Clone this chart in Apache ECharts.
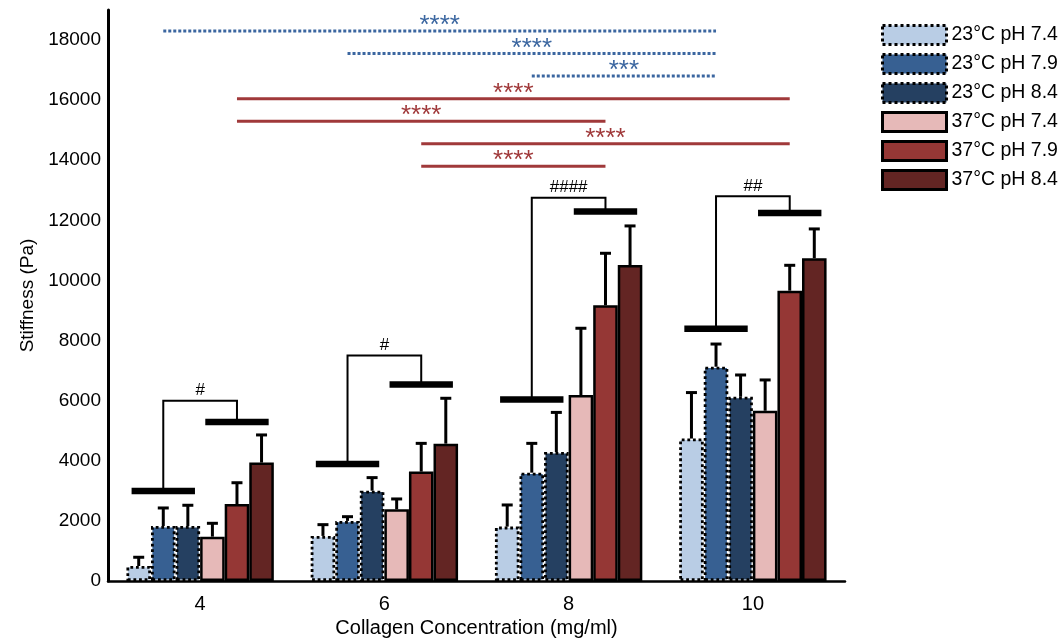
<!DOCTYPE html>
<html>
<head>
<meta charset="utf-8">
<script src="https://cdn.jsdelivr.net/npm/echarts@6/dist/echarts.min.js"></script>
<style>
  html, body { margin: 0; padding: 0; background: #fff; }
  #chart { width: 1059px; height: 638px; }
</style>
</head>
<body>
<div id="chart"></div>
<script>
// Collagen concentration (mg/ml) on the category axis
const concentrations = ['4', '6', '8', '10'];
const groupNames = ['23°C pH 7.4', '23°C pH 7.9', '23°C pH 8.4', '37°C pH 7.4', '37°C pH 7.9', '37°C pH 8.4'];

// Mean stiffness (Pa) per condition
const mean23_74 = [500, 1500, 1810, 4740];
const mean23_79 = [1830, 2000, 3605, 7130];
const mean23_84 = [1830, 3005, 4290, 6130];
const mean37_74 = [1475, 2385, 6190, 5665];
const mean37_79 = [2560, 3640, 9175, 9660];
const mean37_84 = [3940, 4570, 10515, 10740];

// Standard deviations (Pa), drawn as upper error bars
const sd23_74 = [290, 375, 720, 1530];
const sd23_79 = [600, 140, 975, 755];
const sd23_84 = [690, 435, 1320, 725];
const sd37_74 = [445, 345, 2220, 1025];
const sd37_79 = [710, 940, 1730, 845];
const sd37_84 = [920, 1510, 1300, 975];

// 23°C vs 37°C comparison brackets within each concentration
const bracketLow23 = [3000, 3900, 6050, 8400];
const bracketLow37 = [5300, 6550, 12300, 12250];
const bracketTop = [6000, 7500, 12750, 12800];
const bracketLabels = ['#', '#', '####', '##'];

// Comparisons between concentrations for one condition
const sigGroup = [1, 1, 1, 4, 4, 4, 4];
const sigFrom = [0, 1, 2, 0, 0, 1, 1];
const sigTo = [3, 3, 3, 3, 2, 3, 2];
const sigLevel = [18300, 17550, 16800, 16050, 15300, 14550, 13800];
const sigLabels = ['****', '****', '***', '****', '****', '****', '****'];

// Y axis ticks
const yMin = 0, yMax = 19000, yStep = 2000;

const means = [mean23_74, mean23_79, mean23_84, mean37_74, mean37_79, mean37_84];
const sds = [sd23_74, sd23_79, sd23_84, sd37_74, sd37_79, sd37_84];
const colors = ['#b9cde5', '#376092', '#254061', '#e6b9b8', '#953735', '#632523'];
const borderTypes = ['dotted', 'dotted', 'dotted', 'solid', 'solid', 'solid'];
const sigColors = { 1: '#3b66a0', 4: '#a0393a' };
const FONT = 'Liberation Sans, Arial, sans-serif';

const nGroups = groupNames.length;
const catGap = 0.2;

// horizontal offset (px) of a bar centre from its category centre
function barOffset(api, s) {
  const band = api.size([1, 0])[0];
  const w = (1 - catGap) / nGroups;
  return band * (-(1 - catGap) / 2 + (s + 0.5) * w);
}

const barSeries = groupNames.map((name, s) => ({
  name: name,
  type: 'bar',
  barGap: '0%',
  barCategoryGap: (catGap * 100) + '%',
  data: means[s],
  itemStyle: {
    color: colors[s],
    borderColor: '#000',
    borderWidth: borderTypes[s] === 'dotted' ? 2.8 : 2.5,
    borderType: borderTypes[s]
  },
  z: 2
}));

const errData = [];
means.forEach((arr, s) => arr.forEach((m, c) => errData.push([c, s, m, sds[s][c]])));

const errorSeries = {
  type: 'custom',
  encode: { x: 0, y: 2 },
  data: errData,
  z: 3,
  silent: true,
  renderItem(params, api) {
    const c = api.value(0), s = api.value(1), m = api.value(2), sd = api.value(3);
    const base = api.coord([c, m]);
    const top = api.coord([c, m + sd]);
    const x = base[0] + barOffset(api, s);
    return {
      type: 'group',
      children: [
        { type: 'line', shape: { x1: x, y1: base[1], x2: x, y2: top[1] }, style: { stroke: '#000', lineWidth: 3 } },
        { type: 'line', shape: { x1: x - 5.5, y1: top[1], x2: x + 5.5, y2: top[1] }, style: { stroke: '#000', lineWidth: 3 } }
      ]
    };
  }
};

const bracketSeries = {
  type: 'custom',
  encode: { x: 0, y: 3 },
  data: concentrations.map((_, c) => [c, bracketLow23[c], bracketLow37[c], bracketTop[c]]),
  z: 4,
  silent: true,
  renderItem(params, api) {
    const c = api.value(0);
    const band = api.size([1, 0])[0];
    const half = band * 0.172;
    const pL = api.coord([c, api.value(1)]);
    const pR = api.coord([c, api.value(2)]);
    const pT = api.coord([c, api.value(3)]);
    const xL = pL[0] + barOffset(api, 1);
    const xR = pL[0] + barOffset(api, 4);
    return {
      type: 'group',
      children: [
        { type: 'rect', shape: { x: xL - half, y: pL[1] - 3, width: half * 2, height: 6.5 }, style: { fill: '#000' } },
        { type: 'rect', shape: { x: xR - half, y: pR[1] - 3, width: half * 2, height: 6.5 }, style: { fill: '#000' } },
        { type: 'polyline', shape: { points: [[xL, pL[1]], [xL, pT[1]], [xR, pT[1]], [xR, pR[1]]] }, style: { stroke: '#000', lineWidth: 2, fill: null } },
        { type: 'text', style: { text: bracketLabels[c], x: (xL + xR) / 2, y: pT[1] - 2, align: 'center', verticalAlign: 'bottom', fill: '#000', font: '17px ' + FONT } }
      ]
    };
  }
};

const sigSeries = {
  type: 'custom',
  encode: { x: 0, y: 2 },
  data: sigLevel.map((lv, i) => [sigFrom[i], sigTo[i], lv, sigGroup[i]]),
  z: 4,
  silent: true,
  renderItem(params, api) {
    const i = params.dataIndex;
    const s = api.value(3);
    const p1 = api.coord([api.value(0), api.value(2)]);
    const p2 = api.coord([api.value(1), api.value(2)]);
    const x1 = p1[0] + barOffset(api, s);
    const x2 = p2[0] + barOffset(api, s);
    const col = sigColors[s];
    const dotted = borderTypes[s] === 'dotted';
    return {
      type: 'group',
      children: [
        { type: 'line', shape: { x1: x1, y1: p1[1], x2: x2, y2: p1[1] },
          style: { stroke: col, lineWidth: 3, lineDash: dotted ? [3, 2] : null } },
        { type: 'text', style: { text: sigLabels[i], x: (x1 + x2) / 2, y: p1[1] + 8, align: 'center', verticalAlign: 'bottom', fill: col, font: '26px ' + FONT } }
      ]
    };
  }
};

const chart = echarts.init(document.getElementById('chart'), null, { renderer: 'canvas' });
chart.setOption({
  animation: false,
  backgroundColor: '#fff',
  textStyle: { fontFamily: FONT },
  grid: { left: 108, right: 214, top: 10, bottom: 57, outerBoundsMode: 'none', containLabel: false },
  legend: {
    orient: 'vertical',
    left: 876,
    top: 19,
    icon: 'rect',
    itemWidth: 64,
    itemHeight: 19,
    itemGap: 7,
    selectedMode: false,
    textStyle: { fontSize: 19.5, color: '#000', fontFamily: FONT },
    data: groupNames.map((name, s) => ({
      name: name,
      itemStyle: { color: colors[s], borderColor: '#000', borderWidth: 3, borderType: borderTypes[s] }
    }))
  },
  xAxis: {
    type: 'category',
    data: concentrations,
    axisLine: { lineStyle: { color: '#000', width: 2.5 } },
    axisTick: { show: false },
    axisLabel: { color: '#000', fontSize: 20, margin: 13 },
    name: 'Collagen Concentration (mg/ml)',
    nameLocation: 'middle',
    nameGap: 36,
    nameTextStyle: { color: '#000', fontSize: 20 }
  },
  yAxis: {
    type: 'value',
    min: yMin,
    max: yMax,
    interval: yStep,
    axisLine: { show: true, lineStyle: { color: '#000', width: 3 } },
    axisTick: { show: false },
    splitLine: { show: false },
    axisLabel: { color: '#000', fontSize: 19, margin: 7, showMaxLabel: false, formatter: v => String(v) },
    name: 'Stiffness (Pa)',
    nameLocation: 'middle',
    nameGap: 69,
    nameTextStyle: { color: '#000', fontSize: 19 }
  },
  series: [...barSeries, errorSeries, bracketSeries, sigSeries]
});
</script>
</body>
</html>
